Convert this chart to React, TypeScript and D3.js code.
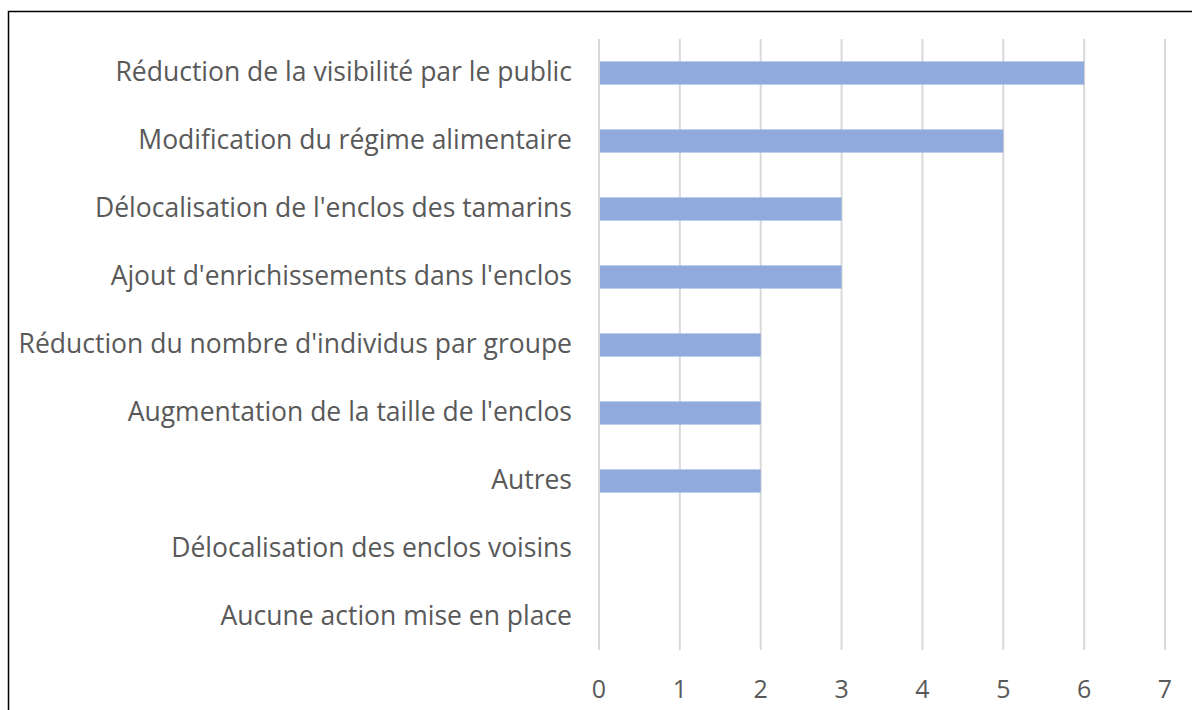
import { useEffect, useRef } from "react";
import * as d3 from "d3";

const categories = [
  "Réduction de la visibilité par le public",
  "Modification du régime alimentaire",
  "Délocalisation de l'enclos des tamarins",
  "Ajout d'enrichissements dans l'enclos",
  "Réduction du nombre d'individus par groupe",
  "Augmentation de la taille de l'enclos",
  "Autres",
  "Délocalisation des enclos voisins",
  "Aucune action mise en place",
];
const counts = [6, 5, 3, 3, 2, 2, 2, 0, 0];
const xTicks = [0, 1, 2, 3, 4, 5, 6, 7];

export default function App() {
  const ref = useRef<SVGSVGElement>(null);

  useEffect(() => {
    if (!ref.current) return;
    const svg = d3.select(ref.current);
    svg.selectAll("*").remove();
    const width = 1192;
    const height = 710;
    const font = "'Open Sans', 'Noto Sans', sans-serif";

    // outer frame, cut at right and bottom like the screenshot
    svg.append("rect")
      .attr("x", 8.5).attr("y", 11.5)
      .attr("width", width + 10).attr("height", height + 10)
      .attr("fill", "white").attr("stroke", "black").attr("stroke-width", 1.5);

    const x = d3.scaleLinear().domain([0, 7]).range([599, 1165]);
    const y = d3.scaleBand().domain(categories).range([39, 651]).paddingInner(0.66).paddingOuter(0.33);

    svg.append("g").selectAll("line").data(xTicks).join("line")
      .attr("x1", d => x(d)).attr("x2", d => x(d))
      .attr("y1", 39).attr("y2", 650)
      .attr("stroke", "#d9d9d9").attr("stroke-width", 2);

    svg.append("g").selectAll("rect").data(counts).join("rect")
      .attr("x", x(0) + 1)
      .attr("y", (d, i) => y(categories[i])!)
      .attr("width", d => Math.max(0, x(d) - x(0) - 1))
      .attr("height", y.bandwidth())
      .attr("fill", "#8faadc");

    svg.append("g").selectAll("text").data(categories).join("text")
      .attr("x", 572)
      .attr("y", d => y(d)! + y.bandwidth() / 2 + 7.5)
      .attr("text-anchor", "end")
      .attr("font-family", font).attr("font-size", 26.5)
      .attr("fill", "#595959")
      .text(d => d);

    svg.append("g").selectAll("text").data(xTicks).join("text")
      .attr("x", d => x(d))
      .attr("y", 698)
      .attr("text-anchor", "middle")
      .attr("font-family", font).attr("font-size", 25)
      .attr("fill", "#595959")
      .text(d => d);
  }, []);

  return (
    <svg ref={ref} width={1192} height={710} viewBox="0 0 1192 710"
      style={{ position: "absolute", left: 0, top: 0, background: "white" }} />
  );
}
